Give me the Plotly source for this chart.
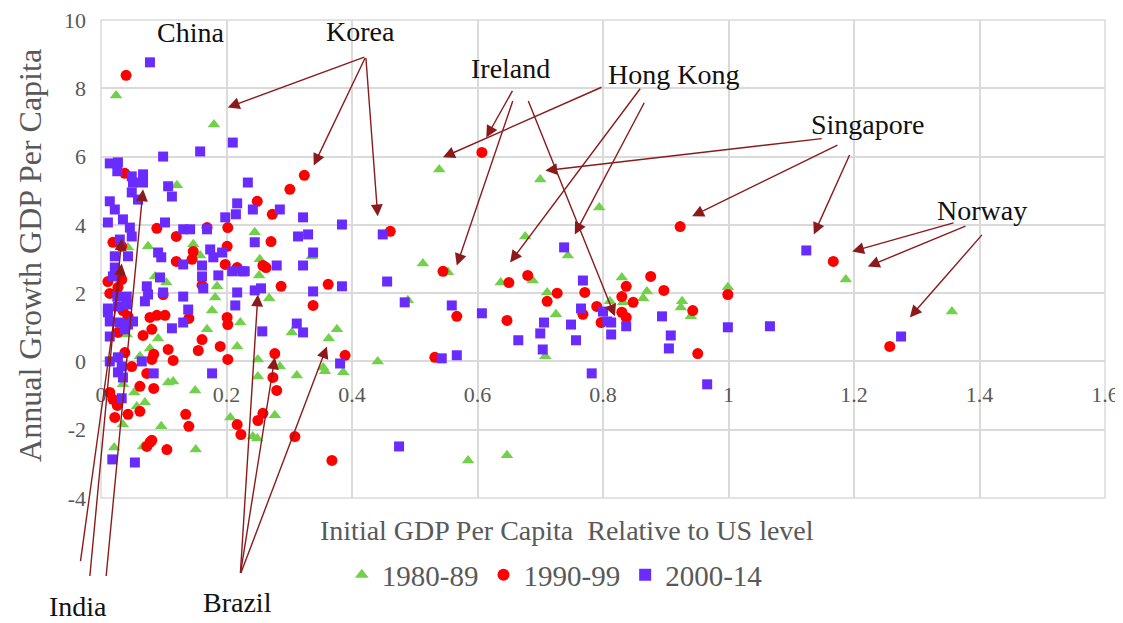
import plotly.graph_objects as go

# ---------------- data ----------------
series_names = ["1980-89", "1990-99", "2000-14"]

x_1980 = [0.024, 0.180, 0.121, 0.075, 0.147, 0.158, 0.086, 0.104, 0.185, 0.182,
          0.177, 0.169, 0.222, 0.091, 0.078, 0.217, 0.062, 0.043, 0.245, 0.253,
          0.252, 0.268, 0.336, 0.304, 0.363, 0.376, 0.250, 0.285, 0.312, 0.354,
          0.386, 0.041, 0.035, 0.053, 0.070, 0.057, 0.107, 0.115, 0.150, 0.035,
          0.096, 0.021, 0.067, 0.151, 0.206, 0.242, 0.249, 0.277, 0.250, 0.357,
          0.441, 0.539, 0.700, 0.794, 0.513, 0.553, 0.676, 0.744, 0.637, 0.688,
          0.711, 0.725, 0.708, 0.489, 0.830, 0.811, 0.832, 0.870, 0.864, 0.926,
          0.924, 0.940, 0.999, 0.585, 0.647, 1.187, 1.356]
y_1980 = [7.79, 6.94, 5.16, 3.37, 3.43, 3.10, 2.49, 2.31, 2.20, 1.87,
          1.49, 0.94, 1.14, 0.67, 0.38, 0.44, 0.15, 3.34, 3.78, 2.99,
          2.52, 1.85, 3.08, 0.85, 0.67, 0.94, 0.06, -0.15, -0.41, -0.18,
          -0.32, 0.79, -0.67, -0.91, -1.20, -1.32, -0.62, -0.59, -0.85, -1.85,
          -1.90, -2.52, -2.49, -2.58, -1.64, -2.20, -2.26, -1.58, -0.44, -0.29,
          0.00, 5.62, 5.33, 4.51, 2.87, 2.61, 3.66, 3.10, 2.31, 2.37,
          2.02, 1.38, 0.15, 1.79, 2.46, 1.76, 1.73, 2.05, 1.85, 1.76,
          1.58, 1.32, 2.17, -2.90, -2.75, 2.40, 1.46]

x_1990 = [0.040, 0.038, 0.324, 0.301, 0.249, 0.273, 0.089, 0.120, 0.169, 0.202,
          0.019, 0.033, 0.271, 0.147, 0.145, 0.120, 0.201, 0.198, 0.217, 0.258,
          0.263, 0.287, 0.362, 0.011, 0.033, 0.014, 0.027, 0.099, 0.161, 0.338,
          0.035, 0.043, 0.078, 0.089, 0.102, 0.140, 0.201, 0.202, 0.027, 0.067,
          0.081, 0.161, 0.155, 0.107, 0.115, 0.190, 0.202, 0.084, 0.081, 0.038,
          0.049, 0.073, 0.062, 0.084, 0.014, 0.019, 0.026, 0.043, 0.062, 0.022,
          0.135, 0.140, 0.217, 0.223, 0.073, 0.078, 0.081, 0.105, 0.250, 0.258,
          0.274, 0.280, 0.277, 0.389, 0.309, 0.368, 0.461, 0.545, 0.567, 0.532,
          0.650, 0.680, 0.727, 0.711, 0.771, 0.768, 0.790, 0.797, 0.830, 0.837,
          0.830, 0.837, 0.848, 0.876, 0.897, 0.943, 0.923, 0.999, 0.951, 0.647,
          0.607, 1.167, 1.257]
y_1990 = [8.38, 5.51, 5.45, 5.04, 4.69, 4.31, 3.90, 3.66, 3.92, 3.92,
          3.49, 3.37, 3.51, 3.22, 2.99, 2.93, 3.37, 2.84, 2.75, 2.81,
          2.75, 2.20, 2.26, 2.34, 2.40, 1.99, 2.17, 1.96, 2.23, 1.64,
          1.49, 1.32, 1.29, 1.35, 1.35, 1.26, 1.29, 1.08, 0.85, 0.76,
          0.94, 0.64, 0.32, 0.35, 0.03, 0.44, 0.06, 0.21, 0.06, 0.26,
          -0.15, -0.35, -0.73, -0.79, -0.91, -1.11, -1.29, -1.55, -1.46, -1.64,
          -1.55, -1.90, -1.85, -2.14, -2.49, -2.37, -2.31, -2.58, -1.73, -1.52,
          -0.47, -0.85, 0.23, 0.18, -2.20, -2.90, 3.81, 2.64, 1.32, 0.12,
          2.31, 2.52, 2.00, 1.76, 2.02, 1.38, 1.61, 1.14, 1.90, 2.20,
          1.44, 1.29, 1.73, 2.49, 2.08, 1.49, 3.95, 1.96, 0.23, 1.20,
          6.12, 2.93, 0.44]

x_2000 = [0.078, 0.210, 0.158, 0.099, 0.014, 0.027, 0.026, 0.049, 0.067, 0.051,
          0.067, 0.049, 0.059, 0.107, 0.113, 0.234, 0.217, 0.215, 0.242, 0.014,
          0.022, 0.035, 0.011, 0.046, 0.049, 0.030, 0.102, 0.131, 0.142, 0.169,
          0.198, 0.245, 0.022, 0.043, 0.091, 0.096, 0.174, 0.179, 0.193, 0.161,
          0.131, 0.161, 0.209, 0.225, 0.187, 0.094, 0.022, 0.019, 0.026, 0.041,
          0.073, 0.075, 0.099, 0.131, 0.163, 0.217, 0.214, 0.027, 0.011, 0.011,
          0.014, 0.030, 0.043, 0.051, 0.041, 0.070, 0.139, 0.131, 0.113, 0.014,
          0.038, 0.014, 0.027, 0.033, 0.027, 0.035, 0.065, 0.084, 0.177, 0.033,
          0.018, 0.054, 0.285, 0.322, 0.384, 0.314, 0.330, 0.338, 0.280, 0.322,
          0.229, 0.245, 0.255, 0.338, 0.384, 0.449, 0.456, 0.484, 0.257, 0.312,
          0.322, 0.381, 0.475, 0.559, 0.607, 0.665, 0.700, 0.706, 0.704, 0.738,
          0.768, 0.749, 0.757, 0.765, 0.800, 0.807, 0.813, 0.813, 0.837, 0.894,
          0.908, 0.905, 0.999, 0.543, 0.567, 0.782, 0.966, 1.124, 1.066, 1.275]
y_2000 = [8.76, 6.41, 6.15, 6.00, 5.80, 5.83, 5.57, 5.42, 5.48, 5.24,
          5.24, 4.95, 4.74, 5.13, 4.83, 5.24, 4.63, 4.31, 4.45, 4.69,
          4.45, 4.16, 4.07, 3.92, 3.66, 3.57, 4.07, 3.87, 3.87, 3.87,
          4.22, 3.49, 3.08, 3.08, 3.19, 3.05, 3.28, 3.05, 3.19, 2.81,
          2.84, 2.49, 2.64, 2.64, 2.52, 2.46, 2.75, 2.49, 1.90, 1.90,
          2.20, 1.96, 2.02, 1.90, 2.14, 2.02, 1.64, 1.61, 1.55, 1.44,
          1.17, 1.14, 1.08, 1.17, 1.67, 1.76, 1.52, 1.14, 0.97, 0.73,
          0.94, 0.00, 0.12, -0.15, -0.32, -0.47, 0.00, -0.35, -0.35, -1.08,
          -2.87, -2.96, 4.45, 4.22, 4.01, 3.66, 3.72, 3.19, 2.81, 2.81,
          2.64, 2.08, 2.14, 2.05, 2.20, 3.72, 2.34, 1.73, 0.88, 1.11,
          0.85, -0.06, -2.49, 1.64, 1.41, 0.62, 0.82, 1.14, 0.35, 3.34,
          2.37, 1.08, 0.62, 1.55, 1.46, 1.17, 1.14, 0.79, 1.03, 1.32,
          0.76, 0.38, 1.00, 0.09, 0.18, -0.35, -0.67, 3.25, 1.03, 0.73]

x_tick_vals = [0, 0.2, 0.4, 0.6, 0.8, 1.0, 1.2, 1.4, 1.6]
x_tick_text = ["0", "0.2", "0.4", "0.6", "0.8", "1", "1.2", "1.4", "1.6"]
y_tick_vals = [-4, -2, 0, 2, 4, 6, 8, 10]
y_tick_text = ["-4", "-2", "0", "2", "4", "6", "8", "10"]

x_title = "Initial GDP Per Capita  Relative to US level"
y_title = "Annual Growth GDP Per Capita"

# country labels inside the plot: (text, label x, label y) in data units
country_labels = [
    ("China", 0.143, 9.64),
    ("Korea", 0.414, 9.67),
    ("Ireland", 0.652, 8.58),
    ("Hong Kong", 0.912, 8.41),
    ("Singapore", 1.222, 6.94),
    ("Norway", 1.404, 4.42),
]
# country labels below the plot: (text, paper x, paper y)
country_labels_below = [
    ("India", -0.023, -0.228),
    ("Brazil", 0.1355, -0.218),
]
# arrows: (tail x, tail y, head x, head y)
arrows = [
    (0.422, 8.93, 0.202, 7.44), (0.422, 8.93, 0.339, 5.74), (0.422, 8.93, 0.441, 4.25),
    (0.657, 7.97, 0.614, 6.56), (0.657, 7.67, 0.567, 2.81), (0.680, 7.67, 0.819, 1.32),
    (0.800, 8.05, 0.545, 5.98), (0.861, 8.03, 0.652, 2.90), (0.867, 7.62, 0.755, 3.72),
    (1.151, 6.53, 0.708, 5.59), (1.176, 6.36, 0.942, 4.25), (1.194, 6.09, 1.136, 3.72),
    (1.361, 4.07, 1.197, 3.22), (1.380, 3.98, 1.222, 2.78), (1.406, 3.75, 1.289, 1.29),
    (-0.033, -5.89, 0.033, 2.87), (-0.018, -6.33, 0.033, 3.60), (0.008, -6.33, 0.067, 5.04),
    (0.222, -6.24, 0.250, 1.96), (0.222, -6.24, 0.277, 0.12), (0.222, -6.24, 0.360, 0.44),
]

# ---------------- style ----------------
SERIF = "Liberation Serif"
GRAY = "#595959"
GRID = "#dadada"
ARROW = "#8b1a1a"
LABEL_FONT = dict(family=SERIF, size=28, color="#111111")

fig = go.Figure()
fig.add_trace(go.Scatter(x=x_1980, y=y_1980, mode="markers", name=series_names[0],
                         marker=dict(symbol="triangle-up", size=11, color="#72d14b")))
fig.add_trace(go.Scatter(x=x_1990, y=y_1990, mode="markers", name=series_names[1],
                         marker=dict(symbol="circle", size=11, color="#ff0000")))
fig.add_trace(go.Scatter(x=x_2000, y=y_2000, mode="markers", name=series_names[2],
                         marker=dict(symbol="square", size=10, color="#6a2bff")))

annotations = []
for tx, ty, hx, hy in arrows:
    annotations.append(dict(x=hx, y=hy, ax=tx, ay=ty, xref="x", yref="y",
                            axref="x", ayref="y", text="", showarrow=True,
                            arrowhead=2, arrowsize=1.7, arrowwidth=1.4,
                            arrowcolor=ARROW, standoff=0))
for txt, lx, ly in country_labels:
    annotations.append(dict(x=lx, y=ly, xref="x", yref="y", text=txt, showarrow=False,
                            font=LABEL_FONT, xanchor="center", yanchor="middle"))
for txt, lx, ly in country_labels_below:
    annotations.append(dict(x=lx, y=ly, xref="paper", yref="paper", text=txt,
                            showarrow=False, font=LABEL_FONT,
                            xanchor="center", yanchor="middle"))
annotations.append(dict(x=0.464, y=-0.069, xref="paper", yref="paper", text=x_title,
                        showarrow=False, font=dict(family=SERIF, size=28, color=GRAY),
                        xanchor="center", yanchor="middle"))
annotations.append(dict(x=-0.071, y=0.508, xref="paper", yref="paper", text=y_title,
                        showarrow=False, textangle=-90,
                        font=dict(family=SERIF, size=32, color=GRAY),
                        xanchor="center", yanchor="middle"))

fig.update_layout(
    width=1115, height=615,
    margin=dict(l=93, r=18, t=12, b=125, autoexpand=False),
    paper_bgcolor="white", plot_bgcolor="white",
    font=dict(family=SERIF, color=GRAY),
    showlegend=True,
    legend=dict(orientation="h", x=0.452, xanchor="center", y=-0.161, yanchor="middle",
                font=dict(family=SERIF, size=29, color=GRAY), itemsizing="constant"),
    annotations=annotations,
    shapes=[dict(type="rect", xref="paper", yref="paper", x0=0, y0=0, x1=1, y1=1,
                 line=dict(color=GRID, width=1.5), layer="below")],
    xaxis=dict(range=[0, 1.6], tickvals=x_tick_vals, ticktext=x_tick_text,
               showgrid=True, gridcolor=GRID, gridwidth=1.5, zeroline=False,
               showline=False, anchor="free", position=4 / 14, ticks="",
               ticklabeloverflow="allow",
               ticklabelstandoff=18, tickfont=dict(family=SERIF, size=22, color=GRAY)),
    yaxis=dict(range=[-4, 10], tickvals=y_tick_vals, ticktext=y_tick_text,
               showgrid=True, gridcolor=GRID, gridwidth=1.5, zeroline=True,
               zerolinecolor=GRID, zerolinewidth=1.5, showline=False, ticks="",
               ticklabeloverflow="allow",
               ticklabelstandoff=14, tickfont=dict(family=SERIF, size=22, color=GRAY)),
)

fig.write_html("out.html")
